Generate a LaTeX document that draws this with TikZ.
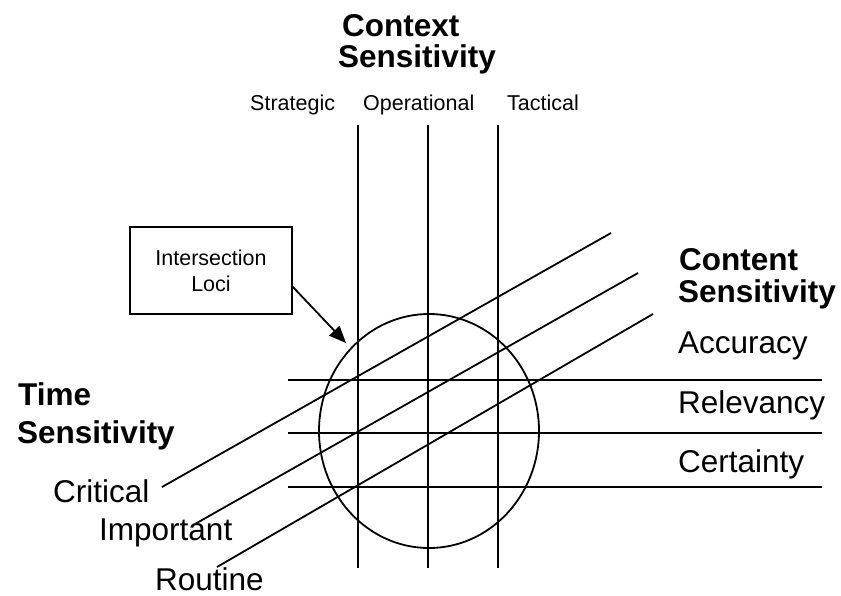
\documentclass[tikz,border=0pt]{standalone}
\usepackage{fontspec}
\setmainfont{Liberation Sans}
\usetikzlibrary{arrows.meta,shapes.geometric}
\begin{document}
\begin{tikzpicture}[x=1pt,y=-1pt,
  ln/.style={line width=1.8pt,black},
  big/.style={font=\fontsize{31.5}{34}\selectfont,inner sep=0pt,anchor=base west},
  bigb/.style={font=\fontsize{31.5}{34}\selectfont\bfseries,inner sep=0pt,anchor=base west},
  small/.style={font=\fontsize{21.5}{26}\selectfont,inner sep=0pt,anchor=base west}]
\useasboundingbox (0,0) rectangle (841,595);
% top labels
\node[bigb] (ctx1) at (342,36) {Context};
\node[bigb] (ctx2) at (338,67) {Sensitivity};
\node[small] (strat) at (250,110) {Strategic};
\node[small] (oper) at (363,110) {Operational};
\node[small] (tact) at (507,110) {Tactical};
% right labels
\node[bigb] (cnt1) at (679,270) {Content};
\node[bigb] (cnt2) at (678,302) {Sensitivity};
\node[big] (acc) at (678,353) {Accuracy};
\node[big] (rel) at (678,413) {Relevancy};
\node[big] (cer) at (678,472) {Certainty};
% left labels
\node[bigb] (tim1) at (18,405) {Time};
\node[bigb] (tim2) at (17,443) {Sensitivity};
\node[big] (crit) at (53,502) {Critical};
\node[big] (imp) at (99,540) {Important};
\node[big] (rout) at (155,590) {Routine};
% vertical lines
\foreach \x/\n in {358/a,428/b,498/c}{
  \coordinate (v\n t) at (\x,125);
  \coordinate (v\n b) at (\x,568);
  \draw[ln] (v\n t) -- (v\n b);
}
% horizontal lines
\foreach \y/\n in {380/a,433/b,487/c}{
  \coordinate (h\n l) at (288,\y);
  \coordinate (h\n r) at (822,\y);
  \draw[ln] (h\n l) -- (h\n r);
}
% diagonal lines
\coordinate (d1s) at (162,487); \coordinate (d1e) at (611,233);
\coordinate (d2s) at (195,524); \coordinate (d2e) at (638,273);
\coordinate (d3s) at (217,567); \coordinate (d3e) at (653,314);
\draw[ln] (d1s) -- (d1e);
\draw[ln] (d2s) -- (d2e);
\draw[ln] (d3s) -- (d3e);
% ellipse
\node[ln,draw,ellipse,minimum width=220pt,minimum height=234pt,inner sep=0pt] (loci) at (429,431) {};
% box
\node[ln,draw,minimum width=162pt,minimum height=87pt,inner sep=0pt,align=center,
  font=\fontsize{21.5}{26}\selectfont] (box) at (211,270.5) {Intersection\\Loci};
\coordinate (arrs) at (292,286);
\coordinate (arre) at (346,343);
\draw[ln,-{Triangle[length=17pt,width=14pt]}] (arrs) -- (arre);
\end{tikzpicture}
\end{document}
